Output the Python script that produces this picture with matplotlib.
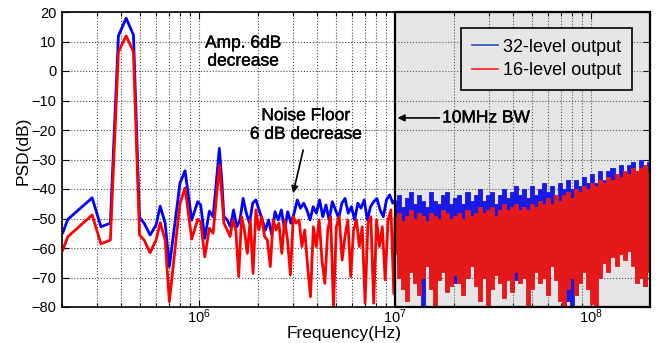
import numpy as np
import matplotlib
matplotlib.use('Agg')
import matplotlib.pyplot as plt
from matplotlib.patches import Rectangle
from matplotlib.lines import Line2D
from matplotlib.ticker import LogLocator, NullFormatter
import matplotlib.patheffects as pe

plt.rcParams['font.family'] = ['Liberation Sans', 'DejaVu Sans']
plt.rcParams['mathtext.fontset'] = 'custom'
plt.rcParams['mathtext.rm'] = 'Liberation Sans'
plt.rcParams['mathtext.it'] = 'Liberation Sans:italic'

# ---- sparse low-frequency bins (Hz) ----
freq_low = [2.02e5, 2.14e5, 2.85e5, 3.16e5, 3.53e5, 3.88e5, 4.25e5, 4.63e5, 4.97e5,
            5.25e5, 5.63e5, 6.04e5, 6.34e5, 6.72e5, 7.06e5, 8.0e5, 8.49e5, 9.18e5,
            9.85e5, 1.02e6, 1.07e6, 1.13e6, 1.18e6, 1.22e6, 1.27e6, 1.31e6, 1.34e6]
blue_low = [-54.8, -50.3, -43.0, -52.8, -51.6, 11.9, 17.9, 12.2, -49.6, -51.6, -55.6,
            -52.2, -45.8, -51.6, -66.3, -38.0, -33.8, -50.5, -44.3, -45.4, -56.7, -47.5,
            -49.4, -39.2, -26.2, -38.1, -49.4]
red_low = [-60.7, -56.2, -48.8, -58.6, -57.3, 6.5, 11.9, 6.5, -55.6, -57.3, -61.6,
           -57.3, -51.4, -57.3, -78.2, -44.9, -39.6, -57.0, -50.3, -51.1, -63.0, -53.3,
           -55.0, -44.8, -31.9, -42.6, -51.6]

# ---- mid band (1.39 MHz .. 10 MHz) ----
blue_mid = [-50.5, -52.8, -47.1, -52.8, -50.5, -43.2, -48.2, -51.6, -44.8, -43.7, -47.1,
            -50.5, -53.9, -50.5, -55.6, -47.7, -50.5, -47.1, -53.9, -47.7, -51.6, -48.2,
            -43.7, -46.5, -44.8, -47.1, -50.5, -46.0, -48.2, -43.7, -49.4, -45.4, -50.5,
            -44.3, -47.1, -49.9, -44.8, -43.2, -48.2, -46.0, -50.5, -44.8, -46.5, -43.7,
            -50.5, -46.0, -44.3, -43.2, -47.1, -49.4, -43.7, -42.0, -44.8]
red_mid = [-53.9, -56.1, -50.5, -53.9, -69.7, -49.4, -53.9, -61.8, -50.5, -68.6, -47.1,
           -53.9, -49.4, -56.1, -57.3, -66.3, -50.5, -53.9, -51.6, -61.8, -50.5, -57.3,
           -69.1, -49.4, -51.6, -50.5, -59.5, -53.9, -66.3, -76.5, -52.8, -59.5, -50.5,
           -64.1, -72.0, -53.9, -49.4, -79.9, -52.8, -49.4, -64.1, -56.1, -50.5, -69.7,
           -53.9, -50.5, -59.5, -52.8, -78.7, -51.6, -49.4, -78.7, -50.5, -59.5, -52.8,
           -70.8, -50.5, -47.1, -75.4]
mid_start = 1.393e6
blue_mid_end = 9.75e6
red_mid_end = 9.86e6

# ---- dense band (10 MHz .. 200 MHz): per-bin-group max / min values ----
blue_hi = [-44, -42, -46, -43, -41, -45, -42, -44, -46, -41, -44, -45, -42, -41, -45, -43,
           -42, -45, -41, -44, -42, -40, -44, -42, -41, -45, -42, -40, -43, -41, -39, -42,
           -40, -43, -39, -42, -40, -38, -41, -39, -42, -38, -40, -37, -40, -37, -39, -36,
           -38, -35, -38, -34, -37, -34, -33, -36, -32, -35, -32, -31, -34, -30, -32, -31]
blue_lo = [-60, -66, -72, -68, -64, -70, -74, -80, -66, -70, -72, -68, -64, -70, -66, -72,
           -68, -73, -66, -64, -70, -72, -66, -74, -70, -66, -68, -72, -66, -74, -71, -66,
           -66, -72, -70, -64, -68, -66, -74, -64, -68, -72, -74, -78, -80, -76, -70, -66,
           -63, -70, -72, -66, -62, -64, -60, -62, -60, -62, -60, -64, -68, -66, -73, -64]
red_hi = [-50, -48, -51, -49, -47, -50, -48, -49, -51, -48, -49, -50, -47, -48, -50, -49,
          -48, -50, -47, -49, -48, -46, -48, -47, -46, -49, -47, -45, -47, -46, -45, -47,
          -46, -47, -45, -46, -44, -45, -43, -45, -42, -44, -42, -41, -43, -40, -41, -39,
          -40, -38, -39, -37, -38, -36, -37, -35, -36, -34, -35, -33, -34, -33, -32, -34]
red_lo = [-62, -70, -74, -78, -68, -72, -76, -70, -66, -74, -80, -71, -68, -75, -73, -69,
          -72, -76, -70, -66, -73, -78, -70, -80, -74, -69, -72, -77, -71, -75, -68, -72,
          -70, -80, -74, -68, -72, -70, -76, -66, -71, -78, -80, -74, -70, -76, -72, -68,
          -74, -79, -80, -70, -65, -68, -63, -66, -62, -64, -61, -66, -72, -70, -73, -68]
dense_start = 1.0e7
dense_end = 1.97e8

y_ticks = [-80, -70, -60, -50, -40, -30, -20, -10, 0, 10, 20]
legend_labels = ['32-level output', '16-level output']

BLUE = '#0000ff'
RED = '#ff0000'

blue_f = np.concatenate([freq_low, np.geomspace(mid_start, blue_mid_end, len(blue_mid))])
blue_v = np.concatenate([blue_low, blue_mid])
red_f = np.concatenate([freq_low, np.geomspace(mid_start, red_mid_end, len(red_mid))])
red_v = np.concatenate([red_low, red_mid])
f_dense = np.geomspace(dense_start, dense_end, len(blue_hi))

fig = plt.figure(figsize=(6.6, 3.43), dpi=100)
ax = fig.add_axes([62 / 660, 1 - 307 / 343, 588 / 660, 295 / 343])

# blue trace
ax.plot(np.append(blue_f, f_dense[0]), np.append(blue_v, blue_hi[0]), color=BLUE, lw=2.0,
        zorder=2)
ax.fill_between(f_dense, blue_lo, blue_hi, step='mid', color=BLUE, lw=0.6, zorder=2)
# red trace
ax.plot(np.append(red_f, f_dense[0]), np.append(red_v, red_hi[0]), color=RED, lw=2.0,
        zorder=2.1)
ax.fill_between(f_dense, red_lo, red_hi, step='mid', color=RED, lw=0.6, zorder=2.1)

ax.set_xscale('log')
ax.set_xlim(2e5, 2e8)
ax.set_ylim(-80, 20)
ax.set_yticks(y_ticks)
ax.xaxis.set_major_locator(LogLocator(base=10, numticks=10))
ax.xaxis.set_minor_locator(LogLocator(base=10, subs=np.arange(2, 10), numticks=20))
ax.xaxis.set_minor_formatter(NullFormatter())

ax.set_axisbelow(True)
ax.grid(True, which='major', axis='both', ls=':', color='0.3', lw=0.8)
ax.grid(True, which='minor', axis='x', ls=':', color='0.3', lw=0.8)

ax.tick_params(which='both', direction='in', top=True, right=True, labelsize=10.5,
               width=0.8)
ax.tick_params(axis='x', which='major', length=5, pad=0)
ax.tick_params(axis='y', which='major', length=5, pad=4)
ax.tick_params(which='minor', length=3)
for s in ax.spines.values():
    s.set_linewidth(1.2)

# shaded out-of-band region
ax.add_patch(Rectangle((1e7, -80), 2e8 - 1e7, 100, facecolor=(0.5, 0.5, 0.5, 0.2),
                       edgecolor='none', zorder=3))
ax.add_patch(Rectangle((1e7, -80), 2e8 - 1e7, 100, facecolor='none',
                       edgecolor='black', lw=1.6, zorder=4, clip_on=False))

ax.set_xlabel('Frequency(Hz)', fontsize=12.5)
ax.set_ylabel('PSD(dB)', fontsize=12.5)
ax.xaxis.set_label_coords(0.48, -0.064)
ax.yaxis.set_label_coords(-0.053, 0.53)

thick = [pe.withStroke(linewidth=0.3, foreground='black')]
ax.text(1.68e6, 6.4, 'Amp. 6dB\ndecrease', ha='center', va='center', fontsize=12.5,
        linespacing=1.25, zorder=6, path_effects=thick)
ax.text(3.51e6, -18.3, 'Noise Floor\n6 dB decrease', ha='center', va='center',
        fontsize=12.5, linespacing=1.3, zorder=6, path_effects=thick)
ax.annotate('', xy=(3.02e6, -41.4), xytext=(3.4e6, -26.8),
            arrowprops=dict(arrowstyle='-|>', color='black', lw=1.2,
                            mutation_scale=10, shrinkA=0, shrinkB=0), zorder=6)
ax.annotate('10MHz BW', xy=(1.03e7, -15.9), xytext=(1.74e7, -15.9), ha='left',
            va='center', fontsize=12.5, zorder=6, path_effects=thick,
            arrowprops=dict(arrowstyle='-|>', color='black', lw=1.2,
                            mutation_scale=10, shrinkA=0, shrinkB=0))

handles = [Line2D([], [], color='#2850b8', lw=1.2), Line2D([], [], color='#ff2020', lw=1.2)]
leg = ax.legend(handles, legend_labels, loc='upper right', bbox_to_anchor=(0.969, 0.946),
                borderaxespad=0, fontsize=13, fancybox=False, framealpha=1,
                facecolor='#e6e6e6', edgecolor='black', handlelength=1.45,
                handletextpad=0.25, borderpad=0.6, labelspacing=0.35)
leg.get_frame().set_linewidth(1.2)
leg.set_zorder(7)

fig.savefig('out.png', dpi=100)
